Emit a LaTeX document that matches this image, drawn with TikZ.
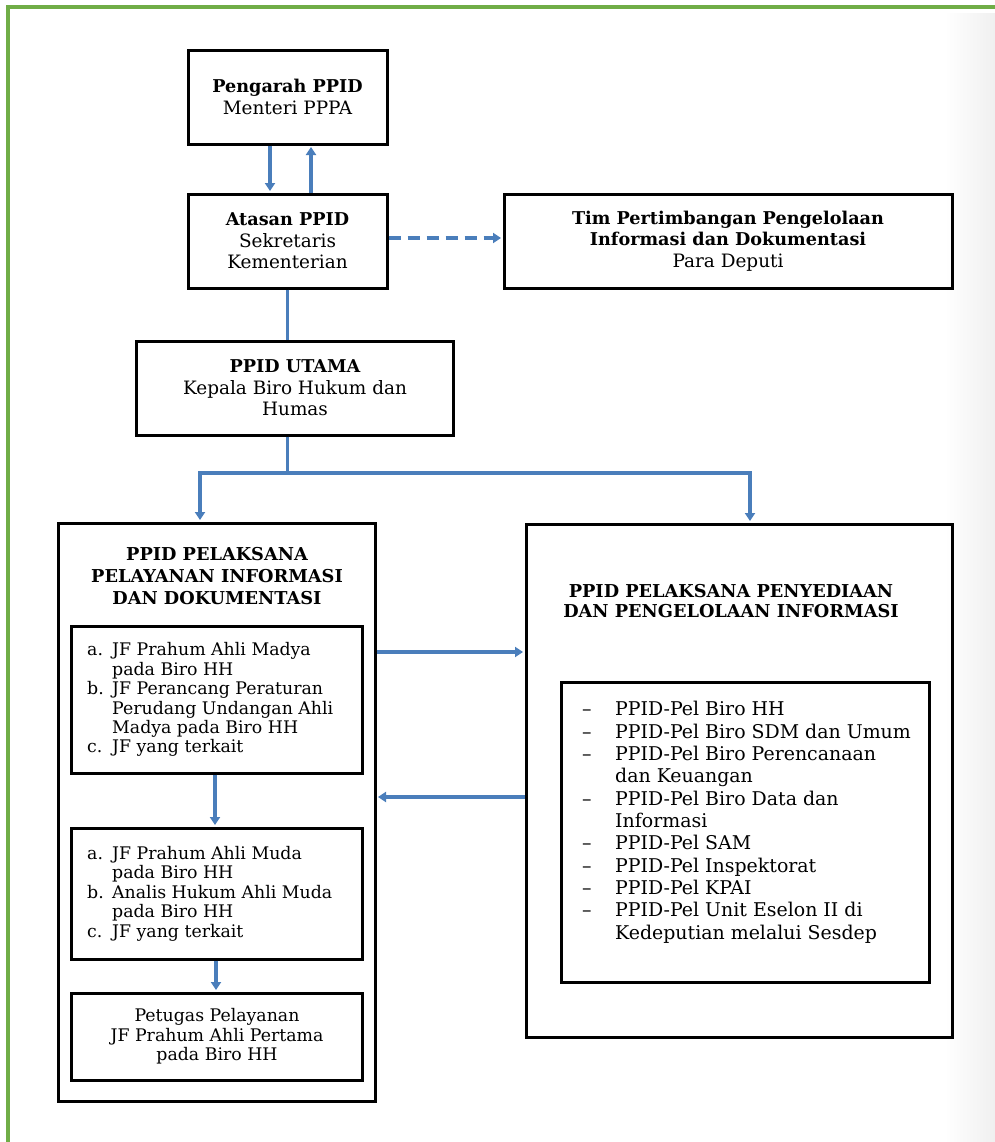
\documentclass[tikz,border=0pt]{standalone}
\usepackage{fontspec}
\setmainfont{DejaVu Serif}
\usetikzlibrary{arrows.meta,calc}
\definecolor{framegreen}{HTML}{70AD47}
\definecolor{conn}{HTML}{4A7EBB}
\newcommand\hb[1]{{\fontsize{17.7}{21.5}\selectfont\bfseries #1}}
\begin{document}
\begin{tikzpicture}[x=1bp,y=-1bp,
  box/.style={draw=black,line width=3bp,inner sep=0pt},
  arr/.style={draw=conn,line width=3.2bp,-{Triangle[length=8bp,width=10bp]},shorten >=1.5bp},
  plain/.style={draw=conn,line width=3.2bp},
  txt/.style={align=center,inner sep=0pt},
  midfont/.style={font=\fontsize{18.5}{21.5}\selectfont},
  listfont/.style={font=\fontsize{17.4}{19.5}\selectfont},
  rlistfont/.style={font=\fontsize{19}{22.45}\selectfont},
  titlefont/.style={font=\bfseries\fontsize{17.8}{22}\selectfont}]
\useasboundingbox (0,0) rectangle (995,1142);
\shade[left color=white,right color=black!6] (945,13) rectangle (995,1142);
\draw[framegreen,line width=3.5bp] (8,1142) -- (8,7) -- (995,7);

% top boxes
\node[box,txt,midfont,minimum width=199bp,minimum height=94bp] (pengarah) at (287.5,97)
  {\hb{Pengarah PPID}\\Menteri PPPA};
\node[box,txt,midfont,minimum width=199bp,minimum height=94bp] (atasan) at (287.5,241)
  {\hb{Atasan PPID}\\Sekretaris\\Kementerian};
\node[box,txt,midfont,minimum width=448bp,minimum height=94bp] (tim) at (728,241)
  {\hb{Tim Pertimbangan Pengelolaan}\\\hb{Informasi dan Dokumentasi}\\Para Deputi};
\node[box,txt,midfont,minimum width=316bp,minimum height=94bp] (utama) at (295,388)
  {\hb{PPID UTAMA}\\Kepala Biro Hukum dan\\Humas};

% left big box
\node[box,minimum width=316bp,minimum height=578bp] (lbig) at (217,812) {};
\node[txt,titlefont] (ltitle) at (217,576)
  {PPID PELAKSANA\\PELAYANAN INFORMASI\\DAN DOKUMENTASI};
\node[box,minimum width=290bp,minimum height=147bp] (in1) at (217,699.5) {};
\node[anchor=west,inner sep=0pt,listfont] (in1t) at (87,700.5)
  {\begin{tabular}{@{}p{25bp}@{}l@{}}
  a. & JF Prahum Ahli Madya\\
     & pada Biro HH\\
  b. & JF Perancang Peraturan\\
     & Perudang Undangan Ahli\\
     & Madya pada Biro HH\\
  c. & JF yang terkait
  \end{tabular}};
\node[box,minimum width=290bp,minimum height=131bp] (in2) at (217,893.5) {};
\node[anchor=west,inner sep=0pt,listfont] (in2t) at (87,894.5)
  {\begin{tabular}{@{}p{25bp}@{}l@{}}
  a. & JF Prahum Ahli Muda\\
     & pada Biro HH\\
  b. & Analis Hukum Ahli Muda\\
     & pada Biro HH\\
  c. & JF yang terkait
  \end{tabular}};
\node[box,txt,listfont,minimum width=290bp,minimum height=87bp] (in3) at (217,1036.5)
  {Petugas Pelayanan\\JF Prahum Ahli Pertama\\pada Biro HH};

% right big box
\node[box,minimum width=426bp,minimum height=513bp] (rbig) at (739,780.5) {};
\node[txt,font=\bfseries\fontsize{17.8}{21}\selectfont] (rtitle) at (731,601)
  {PPID PELAKSANA PENYEDIAAN\\DAN PENGELOLAAN INFORMASI};
\node[box,minimum width=368bp,minimum height=300bp] (rin) at (745,832) {};
\node[anchor=west,inner sep=0pt,rlistfont] (rint) at (582,823)
  {\begin{tabular}{@{}p{33bp}@{}l@{}}
  -- & PPID-Pel Biro HH\\
  -- & PPID-Pel Biro SDM dan Umum\\
  -- & PPID-Pel Biro Perencanaan\\
     & dan Keuangan\\
  -- & PPID-Pel Biro Data dan\\
     & Informasi\\
  -- & PPID-Pel SAM\\
  -- & PPID-Pel Inspektorat\\
  -- & PPID-Pel KPAI\\
  -- & PPID-Pel Unit Eselon II di\\
     & Kedeputian melalui Sesdep
  \end{tabular}};

% connectors
\draw[arr] ([xshift=-17.5bp]pengarah.south) -- ([xshift=-17.5bp]atasan.north);
\draw[arr] ([xshift=23.5bp]atasan.north) -- ([xshift=23.5bp]pengarah.south);
\draw[arr,dash pattern=on 12bp off 7bp] ([yshift=3bp]atasan.east) -- ([yshift=3bp]tim.west);
\draw[plain] (atasan.south) -- (atasan.south |- utama.north);
\coordinate (jn) at (287.5,473);
\coordinate (ya) at (0,652);
\coordinate (yb) at (0,797);
\draw[plain] (utama.south -| jn) -- (jn);
\draw[arr] (jn) -| ([xshift=-17bp]lbig.north);
\draw[arr] (jn) -| ([xshift=11bp]rbig.north);
\draw[arr] ([xshift=-2bp]in1.south) -- ([xshift=-2bp]in2.north);
\draw[arr] ([xshift=-1bp]in2.south) -- ([xshift=-1bp]in3.north);
\draw[arr] (lbig.east |- ya) -- (rbig.west |- ya);
\draw[arr] (rbig.west |- yb) -- (lbig.east |- yb);
\end{tikzpicture}
\end{document}
